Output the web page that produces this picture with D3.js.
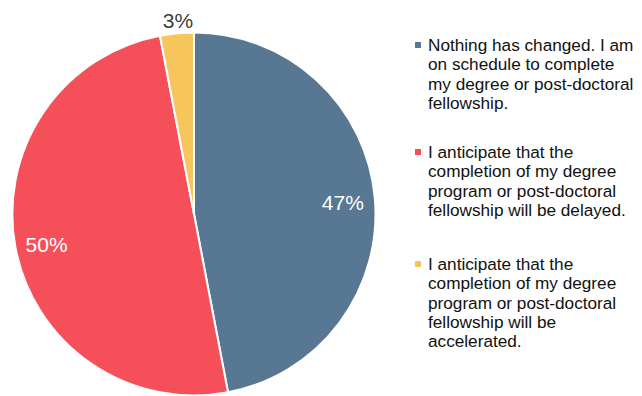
<!DOCTYPE html>
<html><head><meta charset="utf-8">
<script src="https://cdn.jsdelivr.net/npm/d3@7"></script>
<style>body{margin:0;background:#fff}svg{display:block}</style>
</head><body>
<svg id="c" width="642" height="396"></svg>
<script>
const categories = [
  "Nothing has changed. I am on schedule to complete my degree or post-doctoral fellowship.",
  "I anticipate that the completion of my degree program or post-doctoral fellowship will be delayed.",
  "I anticipate that the completion of my degree program or post-doctoral fellowship will be accelerated."
];
const legendLines = [
  ["Nothing has changed. I am", "on schedule to complete", "my degree or post-doctoral", "fellowship."],
  ["I anticipate that the", "completion of my degree", "program or post-doctoral", "fellowship will be delayed."],
  ["I anticipate that the", "completion of my degree", "program or post-doctoral", "fellowship will be", "accelerated."]
];
const values = [47, 50, 3];
const colors = ["#587792", "#f5505a", "#f6c55c"];

const svg = d3.select("#c");
const cx = 194, cy = 214, R = 181.5;
const g = svg.append("g").attr("transform", `translate(${cx},${cy})`);
const pie = d3.pie().sort(null).value(d => d);
const arcs = pie(values);
const arc = d3.arc().innerRadius(0).outerRadius(R);
g.selectAll("path").data(arcs).enter().append("path")
  .attr("d", arc).attr("fill", (d, i) => colors[i])
  .attr("stroke", "#fff").attr("stroke-width", 2);

const inner = d3.arc().innerRadius(148).outerRadius(148);
const outer = d3.arc().innerRadius(197).outerRadius(197);
g.selectAll("text.lbl").data(arcs).enter().append("text")
  .attr("class", "lbl")
  .attr("transform", d => {
    const p = (d.data < 10 ? outer : inner).centroid(d);
    const dx = d.data < 10 ? 2.5 : (p[0] < 0 ? -2 : 1.5);
    return `translate(${p[0] + dx},${p[1] + 2.5})`;
  })
  .attr("text-anchor", "middle").attr("dy", "0.36em")
  .attr("font-family", "Liberation Sans, Arial, sans-serif")
  .attr("font-size", 21)
  .attr("fill", d => d.data < 10 ? "#404040" : "#fff")
  .text(d => d.data + "%");

const legY = [45, 152, 264];
const lg = svg.append("g");
legendLines.forEach((lines, i) => {
  lg.append("rect").attr("x", 415).attr("y", legY[i] - 3).attr("width", 6).attr("height", 6).attr("fill", colors[i]);
  const t = lg.append("text").attr("x", 428).attr("y", legY[i])
    .attr("font-family", "Liberation Sans, Arial, sans-serif").attr("font-size", 17.2).attr("fill", "#111");
  lines.forEach((l, j) => {
    t.append("tspan").attr("x", 428).attr("y", legY[i] + j * 19.3).attr("dy", "0.35em").text(l);
  });
});
</script>
</body></html>
